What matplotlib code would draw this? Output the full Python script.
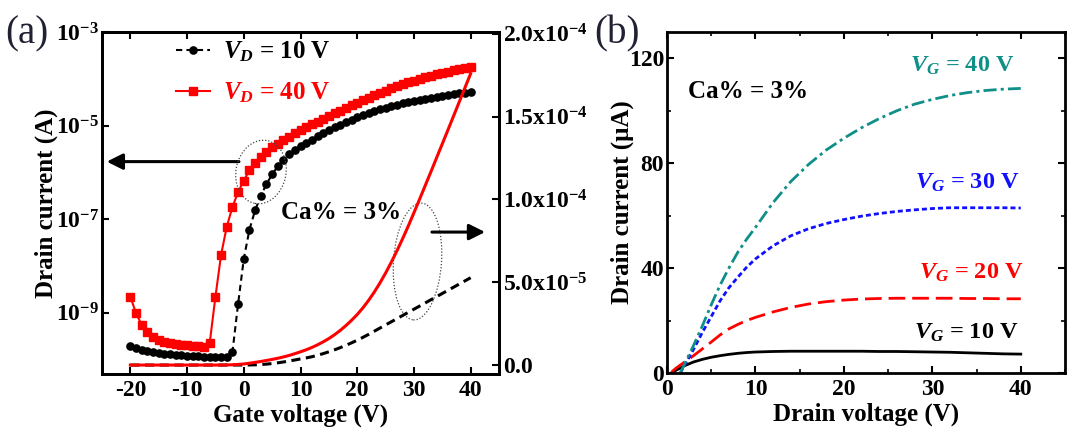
import numpy as np
import matplotlib
matplotlib.use('Agg')
import matplotlib.pyplot as plt
import matplotlib.transforms as mtransforms
from matplotlib.patches import Ellipse
from matplotlib.ticker import NullLocator, MultipleLocator

plt.rcParams['font.family'] = ['Liberation Serif', 'DejaVu Serif']
plt.rcParams['font.weight'] = 'bold'
plt.rcParams['axes.labelweight'] = 'bold'
plt.rcParams['axes.unicode_minus'] = False
plt.rcParams['mathtext.fontset'] = 'custom'
plt.rcParams['mathtext.rm'] = 'Liberation Serif:bold'
plt.rcParams['mathtext.bf'] = 'Liberation Serif:bold'
plt.rcParams['mathtext.it'] = 'Liberation Serif:italic:bold'
plt.rcParams['mathtext.sf'] = 'Liberation Serif:bold'

# ---------------- data: panel (a) transfer curves ----------------
gate_voltage = list(range(-20, 41))  # V
drain_current_vd10 = [
    1.95e-10, 1.74e-10, 1.62e-10, 1.51e-10, 1.45e-10, 1.38e-10, 1.32e-10, 1.29e-10,
    1.26e-10, 1.23e-10, 1.20e-10, 1.17e-10, 1.17e-10, 1.15e-10, 1.15e-10, 1.12e-10,
    1.12e-10, 1.12e-10, 1.45e-10, 1.55e-9,
    1.41e-8, 6.0e-8, 1.55e-7, 3.16e-7, 5.6e-7, 9.1e-7, 1.35e-6, 1.86e-6, 2.45e-6, 3.05e-6,
    3.7e-6, 4.3e-6, 5.0e-6, 5.9e-6, 6.9e-6, 8.0e-6, 9.2e-6, 1.05e-5, 1.19e-5, 1.34e-5,
    1.50e-5, 1.67e-5, 1.85e-5, 2.04e-5, 2.23e-5, 2.42e-5, 2.61e-5, 2.80e-5, 2.99e-5, 3.18e-5,
    3.37e-5, 3.56e-5, 3.75e-5, 3.94e-5, 4.13e-5, 4.32e-5, 4.51e-5, 4.70e-5, 4.89e-5, 5.08e-5,
    5.27e-5]
drain_current_vd40 = [
    2.19e-9, 9.8e-10, 5.5e-10, 3.9e-10, 3.1e-10, 2.63e-10, 2.4e-10, 2.24e-10,
    2.14e-10, 2.04e-10, 2.0e-10, 1.95e-10, 1.9e-10, 1.86e-10, 2.29e-10, 2.19e-9,
    1.74e-8, 6.9e-8, 1.82e-7, 3.8e-7,
    6.6e-7, 1.11e-6, 1.61e-6, 2.16e-6, 2.76e-6, 3.41e-6, 4.11e-6, 4.91e-6, 5.81e-6, 6.86e-6,
    8.01e-6, 9.21e-6, 1.06e-5, 1.22e-5, 1.40e-5, 1.60e-5, 1.83e-5, 2.09e-5, 2.38e-5, 2.70e-5,
    3.05e-5, 3.45e-5, 3.90e-5, 4.40e-5, 4.95e-5, 5.55e-5, 6.20e-5, 6.89e-5, 7.62e-5, 8.39e-5,
    9.19e-5, 1.001e-4, 1.084e-4, 1.167e-4, 1.251e-4, 1.335e-4, 1.419e-4, 1.504e-4, 1.589e-4,
    1.674e-4, 1.759e-4]
log_ticks = [1e-9, 1e-7, 1e-5, 1e-3]
log_tick_labels = [r'$10^{-9}$', r'$10^{-7}$', r'$10^{-5}$', r'$10^{-3}$']
lin_ticks = [0.0, 5e-5, 1e-4, 1.5e-4, 2e-4]
lin_tick_labels = [r'$0.0$', r'$\mathrm{5.0x10}^{-5}$', r'$\mathrm{1.0x10}^{-4}$',
                   r'$\mathrm{1.5x10}^{-4}$', r'$\mathrm{2.0x10}^{-4}$']
x_ticks_a = [-20, -10, 0, 10, 20, 30, 40]

# ---------------- data: panel (b) output curves ----------------
nan = float('nan')
drain_voltage = [0, 0.5, 1, 1.5, 2, 3, 4, 5, 6, 7, 8, 9, 10, 12, 14, 16, 18, 20,
                 22, 24, 26, 28, 30, 32, 34, 36, 38, 40]
id_vg10 = [nan, 0.0, 1.0, 1.9, 2.8, 4.2, 5.2, 6.0, 6.6, 7.1, 7.5, 7.8, 8.0, 8.2, 8.3, 8.3,
           8.3, 8.3, 8.3, 8.2, 8.2, 8.1, 8.0, 7.9, 7.7, 7.5, 7.3, 7.2]
id_vg20 = [nan, 0.3, 1.8, 3.0, 4.2, 6.6, 9.2, 11.8, 14.5, 16.8, 18.5, 20.0, 21.2, 23.3, 25.0,
           26.3, 27.2, 27.8, 28.2, 28.4, 28.5, 28.5, 28.5, 28.5, 28.4, 28.4, 28.3, 28.3]
id_vg30 = [nan, nan, nan, 0.0, 3.0, 9.0, 15.5, 21.5, 27.5, 32.5, 36.5, 40.3, 43.5, 48.5, 52.3,
           55.0, 57.0, 58.5, 59.8, 60.8, 61.6, 62.2, 62.7, 63.0, 63.0, 63.0, 63.0, 62.9]
id_vg40 = [nan, nan, nan, 0.0, 3.5, 10.5, 18.0, 26.0, 33.5, 40.0, 46.0, 51.0, 55.5, 65.0, 73.0,
           79.5, 85.0, 89.5, 93.5, 97.0, 100.0, 102.5, 104.3, 105.8, 106.9, 107.7, 108.2, 108.5]
x_ticks_b = [0, 10, 20, 30, 40]
y_ticks_b = [0, 40, 80, 120]

# ---------------- figure ----------------
W, H = 1080, 445
fig = plt.figure(figsize=(W / 100, H / 100), dpi=100)


def axrect(l, t, r, b):
    return [l / W, 1 - b / H, (r - l) / W, (b - t) / H]


ax1 = fig.add_axes(axrect(102, 32, 499, 374))
ax1r = ax1.twinx()
ax2 = fig.add_axes(axrect(667, 32, 1065, 373))

TEAL = '#0f8f88'
BLUE = '#1010ff'
RED = '#ff0000'
TICK_FS = 17
LAB_FS = 18
TXT_FS = 18

# ---- panel (a)
ax1.set_yscale('log')
l10, = ax1.plot(gate_voltage, drain_current_vd10, color='k', lw=1.5, dashes=(3, 2),
                marker='o', ms=5.2, label=r'$V_D$ = 10 V')
l40, = ax1.plot(gate_voltage, drain_current_vd40, color=RED, lw=1.5, ls='-',
                marker='s', ms=5.2, label=r'$V_D$ = 40 V')
ax1r.plot(gate_voltage, drain_current_vd10, color='k', lw=2.2, dashes=(3, 1.8))
ax1r.plot(gate_voltage, drain_current_vd40, color=RED, lw=2.2)

ax1.set_xlim(-25, 45)
ax1.set_ylim(10 ** -10.31, 1e-3)
ax1.set_xticks(x_ticks_a)
ax1.set_yticks(log_ticks)
ax1.set_yticklabels(log_tick_labels)
ax1.yaxis.set_minor_locator(NullLocator())
ax1r.set_ylim(-5.4e-6, 2.01e-4)
ax1r.set_yticks(lin_ticks)
ax1r.set_yticklabels(lin_tick_labels)

for a in (ax1, ax1r, ax2):
    for s in a.spines.values():
        s.set_linewidth(2.0)
ax1.tick_params(axis='both', which='both', direction='in', length=5, width=1.5,
                labelsize=TICK_FS, top=True, right=False)
ax1.tick_params(axis='x', pad=4)
ax1.tick_params(axis='y', pad=2)
ax1r.tick_params(axis='y', direction='in', length=5, width=1.5, labelsize=TICK_FS, pad=3)

ax1.set_xlabel('Gate voltage (V)', fontsize=LAB_FS, fontweight='bold', labelpad=2)
ax1.set_ylabel('Drain current (A)', fontsize=LAB_FS, fontweight='bold', labelpad=-1.5)

leg = ax1.legend(handles=[l10, l40], loc='upper left', bbox_to_anchor=(0.186, 0.978),
                 frameon=False, fontsize=TXT_FS, handlelength=1.35, handletextpad=0.55,
                 borderpad=0, borderaxespad=0, labelspacing=0.65, numpoints=1)
leg.get_texts()[0].set_color('k')
leg.get_texts()[1].set_color(RED)

ax1.text(0.451, 0.453, 'Ca% = 3%', transform=ax1.transAxes, fontsize=TXT_FS, va='baseline')

# arrows
ax1.annotate('', xy=(0.012, 0.621), xytext=(0.345, 0.621), xycoords='axes fraction',
             arrowprops=dict(arrowstyle='-|>', lw=2.2, color='k', mutation_scale=24,
                             shrinkA=0, shrinkB=0))
ax1.annotate('', xy=(0.965, 0.415), xytext=(0.831, 0.415), xycoords='axes fraction',
             arrowprops=dict(arrowstyle='-|>', lw=2.2, color='k', mutation_scale=24,
                             shrinkA=0, shrinkB=0))
# dotted ellipses (in axes pixel units)
tpx = mtransforms.Affine2D().scale(1 / 397, 1 / 342) + ax1.transAxes
for (cx, cy, w, h, ang) in [(261 - 102, 374 - 172, 50, 64, -11),
                            (417.5 - 102, 374 - 261.5, 48, 117, -4)]:
    ax1r.add_patch(Ellipse((cx, cy), w, h, angle=ang, transform=tpx, fill=False,
                           ec='#444444', lw=0.9, ls=(0, (1, 1.5)), clip_on=False))

# ---- panel (b)
ax2.plot(drain_voltage, id_vg10, color='k', lw=2.0, ls='-')
ax2.plot(drain_voltage, id_vg20, color=RED, lw=2.0, dashes=(6, 2.5))
ax2.plot(drain_voltage, id_vg30, color=BLUE, lw=2.0, dashes=(1.8, 1.1))
ax2.plot(drain_voltage, id_vg40, color=TEAL, lw=2.0, dashes=(4.7, 1.5, 1.1, 1.5))
ax2.set_xlim(0, 45)
ax2.set_ylim(0, 130)
ax2.set_xticks(x_ticks_b)
ax2.set_yticks(y_ticks_b)
ax2.xaxis.set_minor_locator(MultipleLocator(5))
ax2.yaxis.set_minor_locator(MultipleLocator(20))
ax2.tick_params(axis='both', which='major', direction='in', length=5, width=1.5,
                labelsize=TICK_FS, top=True, right=True)
ax2.tick_params(axis='both', which='minor', direction='in', length=3, width=1.2,
                top=True, right=True)
ax2.tick_params(axis='x', pad=4)
ax2.tick_params(axis='y', pad=2)
ax2.set_xlabel('Drain voltage (V)', fontsize=LAB_FS, fontweight='bold', labelpad=2)
ax2.set_ylabel('Drain current (\u03bcA)', fontsize=LAB_FS, fontweight='bold', labelpad=-4)

for a in (ax1, ax1r, ax2):
    for lab in a.get_xticklabels() + a.get_yticklabels():
        lab.set_fontweight('bold')

ax2.text(2.4, 104.7, 'Ca% = 3%', fontsize=TXT_FS, va='baseline')
ax2.text(27.5, 115, r'$V_G$ = 40 V', fontsize=17.5, va='baseline', color=TEAL)
ax2.text(28.0, 70.3, r'$V_G$ = 30 V', fontsize=17.5, va='baseline', color=BLUE)
ax2.text(28.5, 35.9, r'$V_G$ = 20 V', fontsize=17.5, va='baseline', color=RED)
ax2.text(27.9, 13.0, r'$V_G$ = 10 V', fontsize=17.5, va='baseline', color='k')

fig.text(5 / W, 1 - 43 / H, '(a)', fontsize=28, fontweight='normal', color='#202233',
         va='baseline')
fig.text(594 / W, 1 - 43 / H, '(b)', fontsize=28, fontweight='normal', color='#202233',
         va='baseline')

fig.savefig('out.png', dpi=100)
